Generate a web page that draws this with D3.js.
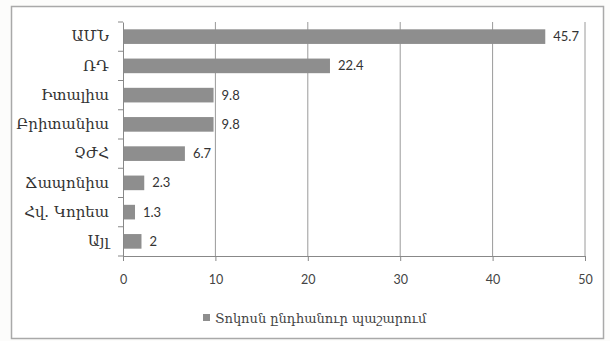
<!DOCTYPE html>
<html>
<head>
<meta charset="utf-8">
<script src="https://cdn.jsdelivr.net/npm/d3@7"></script>
<style>
  body { margin: 0; background: #fff; }
  svg { display: block; }
</style>
</head>
<body>
<div id="chart"></div>
<script>
// share of world reserves, %
var countries = ["ԱՄՆ", "ՌԴ", "Իտալիա", "Բրիտանիա", "ՉԺՀ", "Ճապոնիա", "Հվ. Կորեա", "Այլ"];
var shares = [45.7, 22.4, 9.8, 9.8, 6.7, 2.3, 1.3, 2];
var xTicks = [0, 10, 20, 30, 40, 50];
var seriesName = "Տոկոսն ընդհանուր պաշարում";

var width = 610, height = 341;
var margin = {top: 22, right: 25, bottom: 85, left: 123};

var svg = d3.select("#chart")
    .append("svg")
    .attr("width", width)
    .attr("height", height);

svg.append("rect")
    .attr("width", width)
    .attr("height", height)
    .attr("fill", "#fcfcfb");

// chart frame
svg.append("rect")
    .attr("x", 11.5)
    .attr("y", 6.5)
    .attr("width", 592)
    .attr("height", 332)
    .attr("fill", "#fff")
    .attr("stroke", "#a9a9a9")
    .attr("stroke-width", 1.5);

var x = d3.scaleLinear()
    .domain([0, 50])
    .range([margin.left, width - margin.right]);

var y = d3.scaleBand()
    .domain(countries)
    .range([margin.top, height - margin.bottom])
    .paddingInner(0.5)
    .paddingOuter(0.25);

// gridlines
svg.append("g")
    .selectAll("line")
    .data(xTicks.slice(1))
    .enter()
    .append("line")
    .attr("x1", function(d) { return x(d); })
    .attr("x2", function(d) { return x(d); })
    .attr("y1", margin.top)
    .attr("y2", height - margin.bottom)
    .attr("stroke", "#9a9a9a")
    .attr("stroke-width", 1);

// bars
svg.append("g")
    .selectAll("rect")
    .data(shares)
    .enter()
    .append("rect")
    .attr("x", x(0))
    .attr("y", function(d, i) { return y(countries[i]); })
    .attr("width", function(d) { return x(d) - x(0); })
    .attr("height", y.bandwidth())
    .attr("fill", "#8e8e8e");

// value labels
svg.append("g")
    .selectAll("text")
    .data(shares)
    .enter()
    .append("text")
    .attr("x", function(d) { return x(d) + 8; })
    .attr("y", function(d, i) { return y(countries[i]) + y.bandwidth() / 2; })
    .attr("dy", "0.35em")
    .attr("font-family", "Lato, 'Open Sans', sans-serif")
    .attr("font-size", 13)
    .attr("fill", "#333")
    .text(function(d) { return d; });

// x axis
var xAxis = svg.append("g")
    .attr("transform", "translate(0," + (height - margin.bottom) + ")")
    .call(d3.axisBottom(x).tickValues(xTicks).tickSize(5).tickPadding(14));
xAxis.select(".domain").attr("stroke", "#888");
xAxis.selectAll(".tick line").attr("stroke", "#888");
xAxis.selectAll("text")
    .attr("font-family", "Lato, 'Open Sans', sans-serif")
    .attr("font-size", 12.5)
    .attr("fill", "#444");

// category axis
var yAxis = svg.append("g")
    .attr("transform", "translate(" + margin.left + ",0)")
    .call(d3.axisLeft(y).tickSize(0).tickPadding(14));
yAxis.select(".domain").attr("stroke", "#888");
yAxis.selectAll("text")
    .attr("font-family", "'DejaVu Serif', serif")
    .attr("font-size", 15)
    .attr("fill", "#333");

// category boundary ticks
var bandH = (height - margin.top - margin.bottom) / countries.length;
svg.append("g")
    .selectAll("line")
    .data(d3.range(countries.length + 1))
    .enter()
    .append("line")
    .attr("x1", margin.left - 5)
    .attr("x2", margin.left)
    .attr("y1", function(i) { return margin.top + i * bandH; })
    .attr("y2", function(i) { return margin.top + i * bandH; })
    .attr("stroke", "#888");

// legend
var legend = svg.append("g")
    .attr("transform", "translate(203,318)");
legend.append("rect")
    .attr("x", 0)
    .attr("y", -4)
    .attr("width", 7)
    .attr("height", 7)
    .attr("fill", "#8e8e8e");
legend.append("text")
    .attr("x", 12)
    .attr("y", 0)
    .attr("dy", "0.35em")
    .attr("font-family", "'DejaVu Serif', serif")
    .attr("font-size", 13)
    .attr("fill", "#444")
    .text(seriesName);
</script>
</body>
</html>
